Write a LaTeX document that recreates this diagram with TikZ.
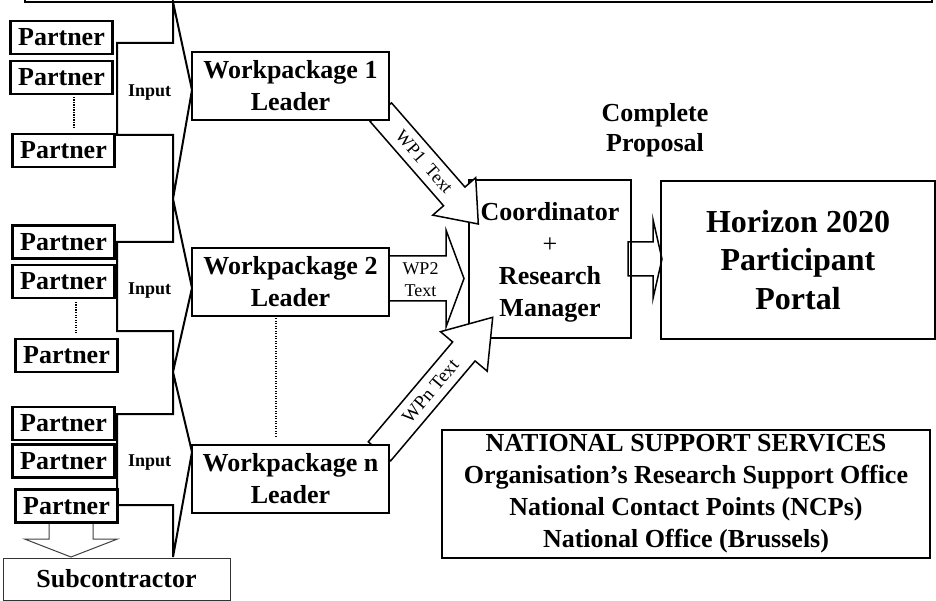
\documentclass[tikz,border=0pt]{standalone}
\usepackage{fontspec}
\setmainfont{Liberation Serif}
\usetikzlibrary{calc}
% block arrow: style, tail, tip, shaft half-width, head half-width, head length
\newcommand\myblockarrow[6]{%
  \coordinate (ba-c) at ($(#3)!#6!(#2)$);
  \path[#1] ($(#2)!#4!90:(#3)$) -- ($(ba-c)!#4!90:(#3)$) -- ($(ba-c)!#5!90:(#3)$) -- (#3)
    -- ($(ba-c)!#5!-90:(#3)$) -- ($(ba-c)!#4!-90:(#3)$) -- ($(#2)!#4!-90:(#3)$) -- cycle;}
\tikzset{
  box/.style={draw, line width=2.1pt, fill=white, align=center, inner sep=0pt,
    font=\bfseries\fontsize{26}{32}\selectfont},
  partner/.style={box, minimum width=102pt, minimum height=33pt},
  wpbox/.style={box, minimum width=197pt, minimum height=68pt},
  inarr/.style={draw, line width=2pt, fill=white, line join=miter},
  arr/.style={draw, line width=1.5pt, fill=white, line join=miter},
  thinarr/.style={draw=black!75, line width=1pt, fill=white},
  lbl/.style={font=\fontsize{18}{22}\selectfont, inner sep=0pt, align=center},
  inlbl/.style={font=\bfseries\fontsize{18}{22}\selectfont, inner sep=0pt},
  dots/.style={line width=1.3pt, dash pattern=on 1.2pt off 1.3pt}
}
\begin{document}
\begin{tikzpicture}[x=1pt,y=-1pt]
\useasboundingbox (0,0) rectangle (936,601);
\clip (0,0) rectangle (936,601);
\fill[white] (0,0) rectangle (936,601);

% top (cut-off) box
\node[draw, line width=2.4pt, minimum width=907pt, minimum height=60pt, inner sep=0pt] (topbox) at (478.5,-28) {};

% input block arrows
\path[inarr] (117,43) -- (173,43) -- (173,2) -- (192,90) -- (173,199) -- (173,135) -- (117,135) -- cycle;
\path[inarr] (117,242) -- (173,242) -- (173,199) -- (192,288) -- (173,372) -- (173,331) -- (117,331) -- cycle;
\path[inarr] (117,414) -- (173,414) -- (173,372) -- (192,452) -- (173,557) -- (173,505) -- (117,505) -- cycle;

% coordinator
\node[box, minimum width=162pt, minimum height=158pt, text depth=0pt] (coord) at (550,259)
  {Coordinator\\{\mdseries+}\\Research\\Manager};

% WP text arrows
\coordinate (a1t) at (380.8,112.2);
\coordinate (a1h) at (478.3,224);
\coordinate (a2t) at (389,278.5);
\coordinate (a2h) at (464,278.5);
\coordinate (ant) at (379.5,451.3);
\coordinate (anh) at (492.7,317.3);
\myblockarrow{arr}{a1t}{a1h}{14.2pt}{28.5pt}{36.6pt}
\myblockarrow{arr}{a2t}{a2h}{22.5pt}{48.5pt}{18pt}
\myblockarrow{arr}{ant}{anh}{14.7pt}{30.6pt}{44.7pt}
\path (a1t) -- (a1h) node[lbl, pos=0.445, sloped] (l1) {WP1~~Text};
\node[lbl] (l2) at (420.5,280) {WP2\\Text};
\path (ant) -- (anh) node[lbl, font=\fontsize{19}{22}\selectfont, pos=0.45, sloped] (ln) {WPn Text};

% workpackage leaders
\node[wpbox] (wp1) at (290.5,86) {Workpackage 1\\Leader};
\node[wpbox] (wp2) at (290.5,282) {Workpackage 2\\Leader};
\node[wpbox] (wpn) at (290.5,479) {Workpackage n\\Leader};
\coordinate (dwa) at (276,318);
\coordinate (dwb) at (276,437);
\draw[dots] (dwa) -- (dwb);

% horizon
\node[box, minimum width=274pt, minimum height=158pt, font=\bfseries\fontsize{32}{38.5}\selectfont] (h2020) at (798,260)
  {Horizon 2020\\Participant\\Portal};
\coordinate (aht) at (628,259);
\coordinate (ahh) at (662,259);
\myblockarrow{draw, line width=1.5pt}{aht}{ahh}{17pt}{39.5pt}{9pt}
\node[align=center, inner sep=0pt, font=\bfseries\fontsize{26}{30}\selectfont] (cp) at (655,130) {Complete\\Proposal};

% partners
\node[partner] (p11) at (61.5,37.5) {Partner};
\node[partner] (p12) at (61.5,77.5) {Partner};
\node[partner] (p13) at (63.5,150.5) {Partner};
\node[partner] (p21) at (63.5,242) {Partner};
\node[partner] (p22) at (63.5,281.5) {Partner};
\node[partner] (p23) at (66.5,355.5) {Partner};
\node[partner] (p31) at (63.5,423.5) {Partner};
\node[partner] (p32) at (63.5,461) {Partner};
\coordinate (s1) at (71,522);
\coordinate (s2) at (71,557);
\myblockarrow{thinarr}{s1}{s2}{22pt}{46.5pt}{18pt}
\node[partner] (p33) at (66.5,506) {Partner};
\coordinate (d1a) at (74,97);
\coordinate (d1b) at (74,128);
\coordinate (d2a) at (76,302);
\coordinate (d2b) at (76,333);
\draw[dots] (d1a) -- (d1b);
\draw[dots] (d2a) -- (d2b);

\node[inlbl] (in1) at (149.7,92.5) {Input};
\node[inlbl] (in2) at (149.7,290.3) {Input};
\node[inlbl] (in3) at (149.7,463) {Input};

% subcontractor
\node[box, draw=black!80, line width=1pt, minimum width=227pt, minimum height=42pt] (sub) at (116.5,579) {Subcontractor};

% national support services
\node[box, minimum width=488pt, minimum height=128pt] (nss) at (686,494)
  {NATIONAL SUPPORT SERVICES\\Organisation’s Research Support Office\\National Contact Points (NCPs)\\National Office (Brussels)};
\end{tikzpicture}
\end{document}
